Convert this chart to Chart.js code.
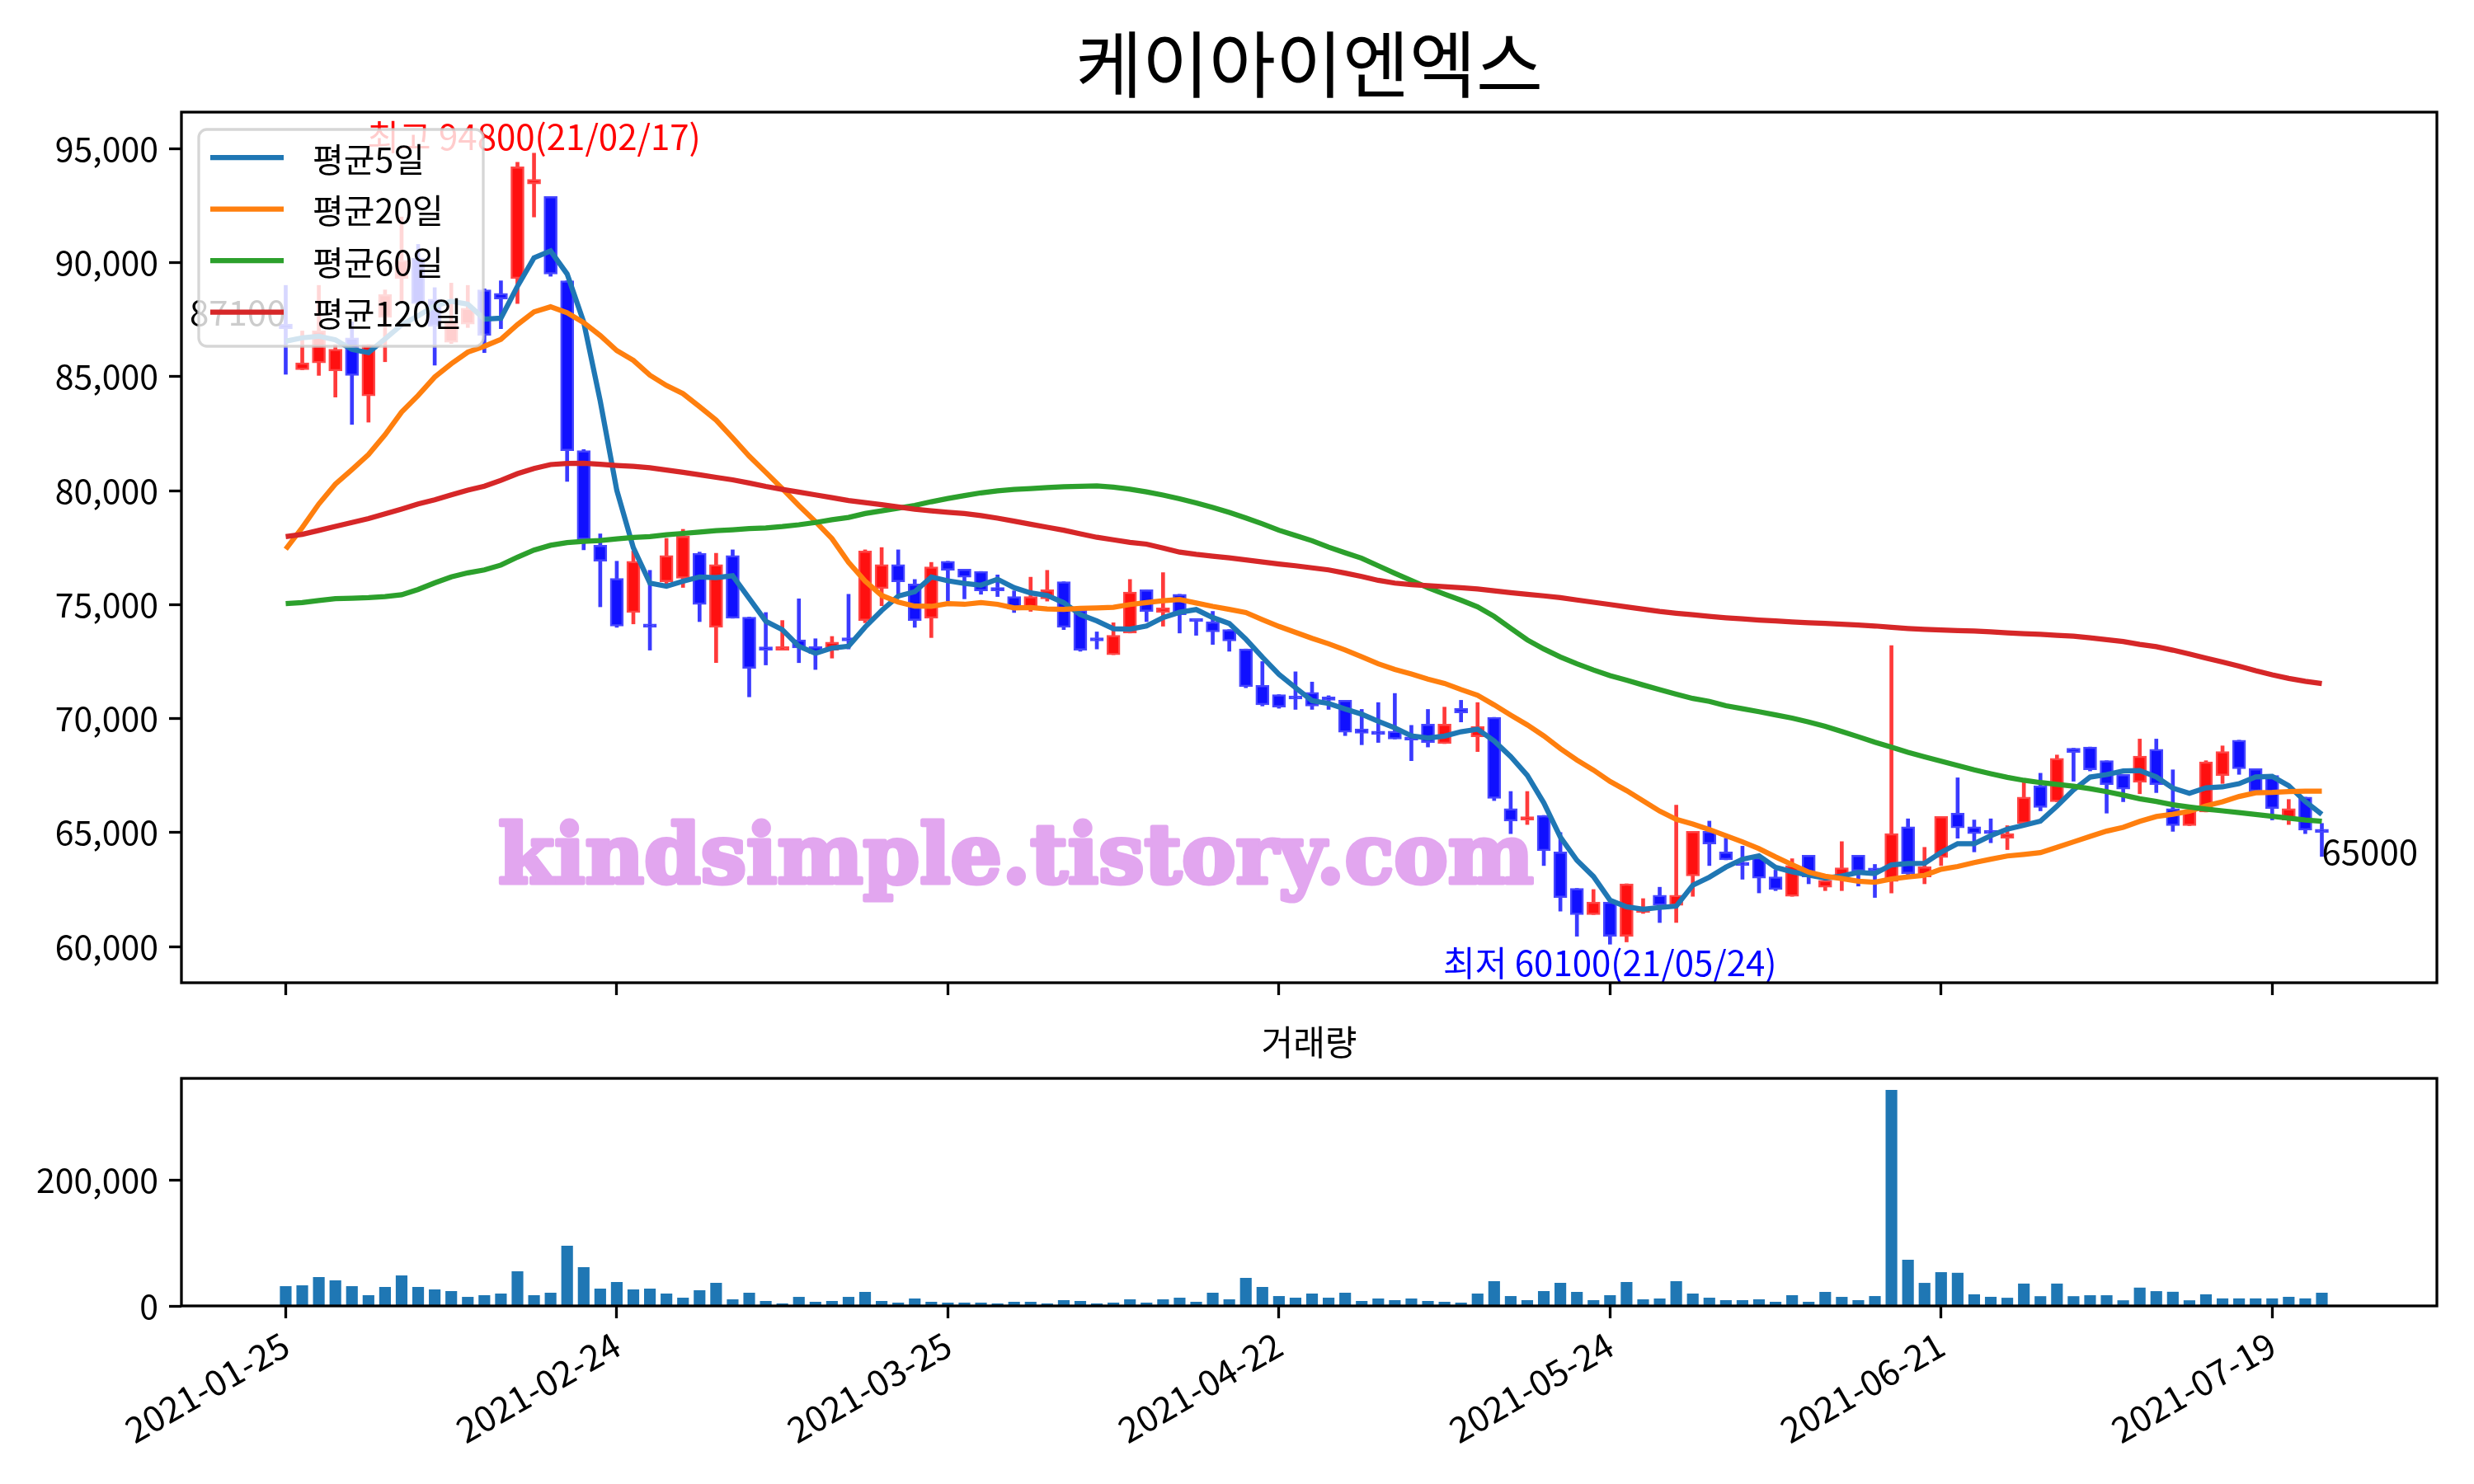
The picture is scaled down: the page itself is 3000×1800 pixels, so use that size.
<!DOCTYPE html>
<html>
<head>
<meta charset="utf-8">
<script src="https://cdn.jsdelivr.net/npm/chart.js@4.4.1/dist/chart.umd.min.js"></script>
<style>
  html, body { margin: 0; padding: 0; background: #fff; }
  #wrap { position: relative; width: 3000px; height: 1800px; }
  #price { position: absolute; left: 0; top: 0; }
  #vol { position: absolute; left: 0; top: 1240px; }
</style>
</head>
<body>
<div id="wrap">
  <canvas id="price" width="3000" height="1240"></canvas>
  <canvas id="vol" width="3000" height="560"></canvas>
</div>
<script>
const FONT = '"Noto Sans CJK KR", "Noto Sans", sans-serif';

const title = '케이아이엔엑스';
const tickIdx = [0, 20, 40, 60, 80, 100, 120];
const tickLabels = ['2021-01-25', '2021-02-24', '2021-03-25', '2021-04-22', '2021-05-24', '2021-06-21', '2021-07-19'];
const priceTicks = [60000, 65000, 70000, 75000, 80000, 85000, 90000, 95000];
const volTicks = [0, 200000];

const highNote = '최고 94800(21/02/17)';
const lowNote = '최저 60100(21/05/24)';
const firstNote = '87100';
const lastNote = '65000';
const watermark = 'kindsimple.tistory.com';

// daily OHLC, one entry per trading day
const openVals = [
  87300, 85300, 85600, 85250, 86700, 84150, 87600, 89300, 90200, 88400,
  86500, 87300, 88800, 88650, 89300, 93450, 92900, 89200, 81750, 77600,
  76150, 74650, 74100, 76000, 76150, 77250, 74000, 77150, 74450, 73100,
  73000, 73450, 73150, 73000, 73450, 74300, 75700, 76750, 75900, 74400,
  76900, 76550, 76450, 75650, 75350, 74800, 75250, 76000, 74750, 73450,
  72800, 73750, 75650, 74650, 75450, 74300, 74250, 73900, 73050, 71450,
  71050, 70900, 71150, 70850, 70800, 69550, 69350, 69450, 69100, 69750,
  68900, 70450, 69200, 70050, 66050, 65550, 65750, 64150, 62550, 61400,
  61950, 60450, 61500, 62250, 61800, 63100, 65050, 64150, 63600, 63900,
  63050, 62200, 64000, 62600, 62950, 64000, 63350, 62850, 65250, 63050,
  63900, 65850, 65250, 65000, 64750, 65400, 67050, 66350, 68700, 68750,
  68150, 67550, 67200, 68650, 66050, 65300, 65900, 67500, 69050, 67800,
  67500, 65550, 66550, 65100
];
const highVals = [
  89000, 87000, 89000, 86400, 87400, 86400, 88800, 92000, 90800, 88900,
  89100, 89000, 88850, 89200, 94400, 94800, 92900, 89200, 81800, 78100,
  76900, 77350, 76500, 77900, 78300, 77300, 77250, 77400, 74450, 74650,
  74300, 75250, 73500, 73600, 75450, 77400, 77500, 77400, 76100, 76850,
  76900, 76550, 76450, 76300, 75600, 76200, 76500, 76000, 74750, 73800,
  74200, 76100, 75650, 76400, 75450, 74300, 74700, 73900, 73050, 72500,
  71050, 72050, 71600, 71000, 70800, 70400, 70700, 71100, 69700, 70400,
  70500, 70800, 70700, 70050, 66800, 66800, 65750, 65000, 62550, 62500,
  61950, 62750, 62100, 62600, 66200, 65050, 65500, 64750, 64400, 63900,
  63350, 63850, 64000, 62900, 64600, 64000, 63600, 73200, 65600, 64350,
  65700, 67400, 65550, 65600, 65300, 67300, 67600, 68400, 68700, 68750,
  68150, 67550, 69100, 69100, 67750, 65950, 68150, 68800, 69050, 67800,
  67500, 66450, 66550, 65400
];
const lowVals = [
  85100, 85300, 85050, 84100, 82900, 83000, 85650, 88300, 88150, 85500,
  86450, 87150, 86050, 87100, 88200, 92000, 89400, 80400, 77400, 74900,
  74000, 74150, 73000, 75750, 75750, 74250, 72450, 74400, 70950, 72350,
  73000, 72450, 72150, 72650, 73050, 74200, 74950, 75450, 74000, 73550,
  75150, 75250, 75450, 75350, 74650, 74700, 75150, 73900, 72950, 73050,
  72800, 73750, 74250, 74050, 73750, 73650, 73250, 72950, 71350, 70550,
  70450, 70400, 70400, 70400, 69250, 68850, 68950, 69100, 68150, 68750,
  68900, 69850, 68550, 66400, 64950, 65350, 63550, 61550, 60450, 61400,
  60100, 60200, 61450, 61050, 61050, 62200, 63550, 63800, 62950, 62350,
  62450, 62200, 62750, 62450, 62450, 62650, 62150, 62350, 63150, 62750,
  63550, 64750, 64150, 64550, 64250, 65400, 65950, 66350, 67250, 67700,
  65850, 66350, 66700, 66750, 65050, 65300, 65900, 67150, 67550, 66800,
  65550, 65350, 64950, 63950
];
const closeVals = [
  87100, 85600, 87000, 86200, 85050, 86400, 88600, 90100, 88200, 87200,
  87400, 88000, 86800, 88400, 94200, 93650, 89500, 81750, 77850, 76900,
  74050, 76900, 74000, 77150, 78000, 75000, 76750, 74400, 72200, 73000,
  73150, 73100, 72850, 73350, 73400, 77350, 76750, 76000, 74300, 76650,
  76500, 76200, 75600, 75600, 74800, 75350, 75650, 74000, 73000, 73400,
  73650, 75550, 74700, 74850, 74550, 74250, 73800, 73400, 71400, 70600,
  70500, 70850, 70550, 70800, 69400, 69350, 69300, 69100, 69050, 68950,
  69750, 70250, 69650, 66500, 65500, 65650, 64200, 62150, 61400, 61950,
  60450, 62750, 61600, 61800, 62250, 65050, 64500, 63800, 63550, 63000,
  62500, 63550, 63050, 62900, 63450, 63300, 63300, 64950, 63200, 63500,
  65700, 65200, 64950, 64950, 64950, 66550, 66100, 68250, 68500, 67750,
  67100, 66900, 68350, 67100, 65300, 65950, 68100, 68550, 67800, 66800,
  66050, 66050, 65100, 65000
];

// moving averages as drawn
const ma5 = [
  86550, 86700, 86770, 86610, 86190, 86050, 86650, 87270, 87670, 88100,
  88300, 88180, 87520, 87560, 88960, 90210, 90510, 89500, 87390, 83930,
  80010, 77490, 75940, 75800, 76020, 76210, 76180, 76260, 75270, 74270,
  73900, 73170, 72860, 73090, 73170, 74010, 74740, 75370, 75560, 76210,
  76040, 75930, 75850, 76110, 75740, 75510, 75400, 75080, 74560, 74280,
  73940, 73920, 74060, 74430, 74660, 74780, 74430, 74170, 73480, 72690,
  71940, 71350, 70780, 70660, 70420, 70190, 69880, 69590, 69240, 69150,
  69230, 69420, 69530, 69020, 68330, 67510, 66300, 64800, 63780, 63070,
  62030, 61740, 61630, 61710, 61770, 62690, 63040, 63480, 63830, 63980,
  63470, 63280, 63130, 63000, 63090, 63250, 63200, 63580, 63640, 63650,
  64130, 64510, 64510, 64860, 65150, 65320, 65500, 66160, 66870, 67430,
  67540, 67700, 67720, 67440, 66950, 66720, 66960, 67000, 67140, 67440,
  67460, 67050, 66360, 65800
];
const ma20 = [
  77430, 78380, 79410, 80280, 80920, 81580, 82450, 83440, 84170, 84980,
  85560, 86070, 86330, 86630, 87280, 87840, 88060, 87800, 87370, 86800,
  86140, 85710, 85060, 84610, 84250, 83680, 83090, 82310, 81510, 80800,
  80080, 79340, 78640, 77890, 76850, 76030, 75400, 75110, 74930, 74920,
  75040, 75010, 75090, 75010, 74850, 74870, 74810, 74790, 74830, 74850,
  74880, 75000, 75090, 75170, 75220, 75070, 74920, 74790, 74650, 74340,
  74040, 73780, 73520, 73280, 73010, 72710, 72400, 72150, 71950, 71730,
  71540, 71270, 71020, 70600, 70150, 69720, 69240, 68680, 68180, 67740,
  67240, 66840, 66390, 65940, 65580, 65370, 65130, 64860, 64590, 64290,
  63930, 63590, 63260, 63080, 62980, 62860, 62820, 62960, 63050, 63120,
  63390, 63510, 63680, 63830, 63970, 64040, 64120, 64350, 64590, 64830,
  65060, 65230, 65490, 65700, 65800, 65930, 66170, 66350, 66580, 66740,
  66760, 66800, 66810, 66810
];
const ma60 = [
  75040, 75090, 75180, 75260, 75280, 75300, 75350, 75430, 75660, 75950,
  76210, 76390, 76520, 76730, 77080, 77390, 77600, 77720, 77770, 77810,
  77880, 77940, 77980, 78060, 78120, 78180, 78240, 78280, 78330, 78360,
  78420, 78500, 78600, 78720, 78820, 78990, 79110, 79230, 79350, 79510,
  79650, 79780, 79900, 79990, 80050, 80090, 80130, 80170, 80190, 80200,
  80150, 80060, 79940, 79800, 79640, 79460, 79260, 79040, 78800, 78540,
  78260, 78030, 77800, 77520, 77270, 77030, 76700, 76370, 76050, 75740,
  75460, 75190, 74900, 74480, 73960, 73450, 73050, 72700, 72400, 72130,
  71880, 71680, 71470, 71270, 71070, 70880, 70750, 70560, 70430, 70300,
  70160, 70020, 69850, 69660, 69430, 69200, 68960, 68740, 68520, 68320,
  68130, 67940, 67750, 67580, 67420, 67290, 67190, 67110, 67030, 66920,
  66790, 66640, 66480, 66360, 66220, 66120, 66030, 65950, 65870, 65790,
  65710, 65630, 65550, 65490
];
const ma120 = [
  77980, 78080, 78250, 78430, 78600, 78770, 78980, 79190, 79410, 79590,
  79810, 80020, 80190, 80450, 80740, 80970, 81140, 81190, 81200, 81150,
  81100, 81060, 81000, 80900, 80800, 80690, 80580, 80470, 80330, 80180,
  80050, 79930, 79810, 79690, 79560, 79470, 79380, 79280, 79180, 79110,
  79050, 78990, 78900, 78790, 78660, 78520, 78390, 78260, 78100, 77950,
  77840, 77730, 77650, 77480, 77300, 77200, 77120, 77050, 76960, 76870,
  76780, 76700, 76610, 76520, 76380, 76230, 76060, 75940, 75870, 75830,
  75780, 75740, 75680, 75600, 75520, 75450, 75380, 75300, 75200, 75100,
  75000, 74900, 74800, 74700, 74620, 74550, 74480, 74420, 74370, 74320,
  74280, 74240, 74200, 74170, 74140, 74100, 74060, 74000, 73950, 73910,
  73880, 73860, 73840, 73800, 73760, 73720, 73690, 73650, 73610, 73540,
  73460, 73380, 73250, 73150, 73000, 72830, 72650, 72480, 72300, 72100,
  71920, 71760, 71630, 71530
];
const volumes = [
  30900, 32200, 45300, 40100, 30900, 16600, 29600, 47900, 29600, 25700,
  23100, 13900, 16600, 19200, 54500, 16600, 20500, 95000, 61000, 27000,
  37500, 25700, 27000, 19200, 12600, 24400, 36200, 10000, 20500, 7400,
  3500, 13900, 6100, 7400, 13900, 21800, 7400, 4800, 11300, 6100,
  4800, 4800, 4800, 3500, 6100, 6100, 3500, 8700, 7400, 3500,
  4800, 10000, 4800, 10000, 12600, 6100, 20500, 10000, 44000, 29600,
  15200, 12600, 19200, 12600, 20500, 7400, 11300, 8700, 11300, 7400,
  6100, 4800, 19200, 38800, 15200, 8700, 23100, 36200, 21800, 8700,
  16600, 37500, 10000, 11300, 38800, 19200, 12600, 8700, 8700, 10000,
  6100, 16600, 6100, 21800, 13900, 8700, 15200, 342000, 72800, 36100,
  53100, 52100, 18000, 14000, 12500, 35000, 15000, 35000, 15000, 16500,
  16500, 8500, 28600, 23000, 22000, 8500, 18000, 11500, 11500, 11500,
  11500, 14000, 11500, 20500
];

const X_MIN = -6.3;
const X_MAX = 129.95;
const Y_MIN = 58410;
const Y_MAX = 96600;
const VOL_MAX = 360800;

const UP_FILL = '#ff1010', UP_EDGE = '#ff4646', UP_WICK = '#ff3a3a';
const DN_FILL = '#1010ff', DN_EDGE = '#4646ff', DN_WICK = '#3a3aff';

const idx = closeVals.map((_, i) => i);
const isUp = idx.map((i) => closeVals[i] >= openVals[i]);

const maSeries = [
  { label: '평균5일', data: ma5, color: '#1f77b4' },
  { label: '평균20일', data: ma20, color: '#ff7f0e' },
  { label: '평균60일', data: ma60, color: '#2ca02c' },
  { label: '평균120일', data: ma120, color: '#d62728' },
];

const xAxisBase = {
  type: 'linear',
  min: X_MIN,
  max: X_MAX,
  offset: false,
  afterBuildTicks: (s) => {
    s.ticks = tickIdx.map((v) => ({ value: v }));
  },
  grid: {
    display: true,
    offset: false,
    drawOnChartArea: false,
    drawTicks: true,
    tickLength: 15,
    tickWidth: 3.3,
    tickColor: '#000',
  },
  border: { display: false },
};

// frame, texts, legend, title
const pricePlugin = {
  id: 'pricePlugin',
  afterDraw: (chart) => {
    const ctx = chart.ctx;
    const area = chart.chartArea;
    const xs = chart.scales.x;
    const ys = chart.scales.y;

    // annotations (drawn under the legend)
    const hiVal = Math.max(...highVals);
    const hiIdx = highVals.indexOf(hiVal);
    const loVal = Math.min(...lowVals);
    const loIdx = lowVals.indexOf(loVal);
    const last = closeVals.length - 1;
    ctx.save();
    ctx.font = `42px ${FONT}`;
    ctx.textBaseline = 'alphabetic';
    ctx.textAlign = 'center';
    ctx.fillStyle = '#ff0000';
    ctx.fillText(highNote, xs.getPixelForValue(hiIdx), ys.getPixelForValue(hiVal) - 4);
    ctx.fillStyle = '#0000ff';
    ctx.textBaseline = 'top';
    ctx.fillText(lowNote, xs.getPixelForValue(loIdx), ys.getPixelForValue(loVal) + 2);
    ctx.fillStyle = '#000';
    ctx.textAlign = 'right';
    ctx.textBaseline = 'alphabetic';
    ctx.fillText(firstNote, xs.getPixelForValue(0), ys.getPixelForValue(closeVals[0]) - 4);
    ctx.textAlign = 'left';
    ctx.textBaseline = 'top';
    ctx.fillText(lastNote, xs.getPixelForValue(last), ys.getPixelForValue(closeVals[last]) + 2);
    ctx.restore();

    // legend box
    const lx = area.left + 21, ly = area.top + 21, lw = 345, lh = 263;
    ctx.save();
    ctx.beginPath();
    ctx.roundRect(lx, ly, lw, lh, 10);
    ctx.fillStyle = 'rgba(255,255,255,0.8)';
    ctx.fill();
    ctx.lineWidth = 3.3;
    ctx.strokeStyle = 'rgba(204,204,204,0.8)';
    ctx.stroke();
    ctx.font = `41px ${FONT}`;
    ctx.textAlign = 'left';
    ctx.textBaseline = 'middle';
    maSeries.forEach((m, k) => {
      const yy = ly + 34 + k * 62.5;
      ctx.beginPath();
      ctx.moveTo(lx + 14, yy);
      ctx.lineTo(lx + 103, yy);
      ctx.strokeStyle = m.color;
      ctx.lineWidth = 6.25;
      ctx.stroke();
      ctx.fillStyle = '#000';
      ctx.fillText(m.label, lx + 138, yy + 2);
    });
    ctx.restore();

    // frame
    ctx.save();
    ctx.strokeStyle = '#000';
    ctx.lineWidth = 3.3;
    ctx.strokeRect(area.left, area.top, area.right - area.left, area.bottom - area.top);
    ctx.restore();

    // title
    ctx.save();
    ctx.font = `88px ${FONT}`;
    ctx.fillStyle = '#000';
    ctx.textAlign = 'center';
    ctx.textBaseline = 'middle';
    ctx.fillText(title, (area.left + area.right) / 2, 78);
    ctx.restore();

    // watermark
    ctx.save();
    ctx.font = `bold 100px "DejaVu Serif", serif`;
    const w = ctx.measureText(watermark).width;
    const size = 100 * 1256 / w;
    ctx.font = `bold ${size}px "DejaVu Serif", serif`;
    ctx.fillStyle = '#e2a6ef';
    ctx.strokeStyle = '#e2a6ef';
    ctx.lineWidth = 5;
    ctx.lineJoin = 'round';
    ctx.textAlign = 'left';
    ctx.textBaseline = 'alphabetic';
    ctx.strokeText(watermark, 604, 1071);
    ctx.fillText(watermark, 604, 1071);
    ctx.restore();
  },
};

new Chart(document.getElementById('price'), {
  type: 'bar',
  data: {
    datasets: [
      ...maSeries.map((m, k) => ({
        type: 'line',
        label: m.label,
        data: idx.map((i) => ({ x: i, y: m.data[i] })),
        borderColor: m.color,
        borderWidth: 6.25,
        pointRadius: 0,
        fill: false,
        tension: 0,
        order: 4 - k,
      })),
      {
        label: 'body',
        data: idx.map((i) => ({ x: i, y: [openVals[i], closeVals[i]] })),
        backgroundColor: idx.map((i) => (isUp[i] ? UP_FILL : DN_FILL)),
        borderColor: idx.map((i) => (isUp[i] ? UP_EDGE : DN_EDGE)),
        borderWidth: 2.5,
        borderSkipped: false,
        barThickness: 16,
        minBarLength: 4,
        grouped: false,
        order: 10,
      },
      {
        label: 'wick',
        data: idx.map((i) => ({ x: i, y: [lowVals[i], highVals[i]] })),
        backgroundColor: idx.map((i) => (isUp[i] ? UP_WICK : DN_WICK)),
        borderWidth: 0,
        barThickness: 4,
        grouped: false,
        order: 20,
      },
    ],
  },
  options: {
    responsive: false,
    animation: false,
    events: [],
    layout: { padding: { top: 136, right: 45, bottom: 8, left: 0 } },
    plugins: { legend: { display: false }, tooltip: { enabled: false } },
    scales: {
      x: {
        ...xAxisBase,
        ticks: { display: true, callback: () => '' },
        afterFit: (s) => {
          s.height = 40;
          s.paddingLeft = 0;
          s.paddingRight = 0;
        },
      },
      y: {
        min: Y_MIN,
        max: Y_MAX,
        afterBuildTicks: (s) => {
          s.ticks = priceTicks.map((v) => ({ value: v }));
        },
        ticks: {
          color: '#000',
          font: { size: 41, family: FONT },
          padding: 13,
          callback: (v) => v.toLocaleString('en-US'),
        },
        grid: {
          drawOnChartArea: false,
          drawTicks: true,
          tickLength: 15,
          tickWidth: 3.3,
          tickColor: '#000',
        },
        border: { display: false },
        afterFit: (s) => {
          s.width = 220;
        },
      },
    },
  },
  plugins: [pricePlugin],
});

const volPlugin = {
  id: 'volPlugin',
  afterDraw: (chart) => {
    const ctx = chart.ctx;
    const area = chart.chartArea;
    ctx.save();
    ctx.strokeStyle = '#000';
    ctx.lineWidth = 3.3;
    ctx.strokeRect(area.left, area.top, area.right - area.left, area.bottom - area.top);
    ctx.font = `42px ${FONT}`;
    ctx.fillStyle = '#000';
    ctx.textAlign = 'center';
    ctx.textBaseline = 'middle';
    ctx.fillText('거래량', (area.left + area.right) / 2, 24);
    ctx.restore();
  },
};

new Chart(document.getElementById('vol'), {
  type: 'bar',
  data: {
    datasets: [
      {
        label: '거래량',
        data: idx.map((i) => ({ x: i, y: volumes[i] })),
        backgroundColor: '#1f77b4',
        borderWidth: 0,
        barThickness: 13.5,
        grouped: false,
      },
    ],
  },
  options: {
    responsive: false,
    animation: false,
    events: [],
    layout: { padding: { top: 68, right: 45, bottom: 16, left: 0 } },
    plugins: { legend: { display: false }, tooltip: { enabled: false } },
    scales: {
      x: {
        ...xAxisBase,
        ticks: {
          color: '#000',
          font: { size: 43, family: FONT },
          minRotation: 30,
          maxRotation: 30,
          autoSkip: false,
          padding: 6,
          callback: (v) => tickLabels[tickIdx.indexOf(v)] || '',
        },
        afterFit: (s) => {
          s.height = 200;
          s.paddingLeft = 0;
          s.paddingRight = 0;
        },
      },
      y: {
        min: 0,
        max: VOL_MAX,
        afterBuildTicks: (s) => {
          s.ticks = volTicks.map((v) => ({ value: v }));
        },
        ticks: {
          color: '#000',
          font: { size: 41, family: FONT },
          padding: 13,
          callback: (v) => v.toLocaleString('en-US'),
        },
        grid: {
          drawOnChartArea: false,
          drawTicks: true,
          tickLength: 15,
          tickWidth: 3.3,
          tickColor: '#000',
        },
        border: { display: false },
        afterFit: (s) => {
          s.width = 220;
        },
      },
    },
  },
  plugins: [volPlugin],
});
</script>
</body>
</html>
